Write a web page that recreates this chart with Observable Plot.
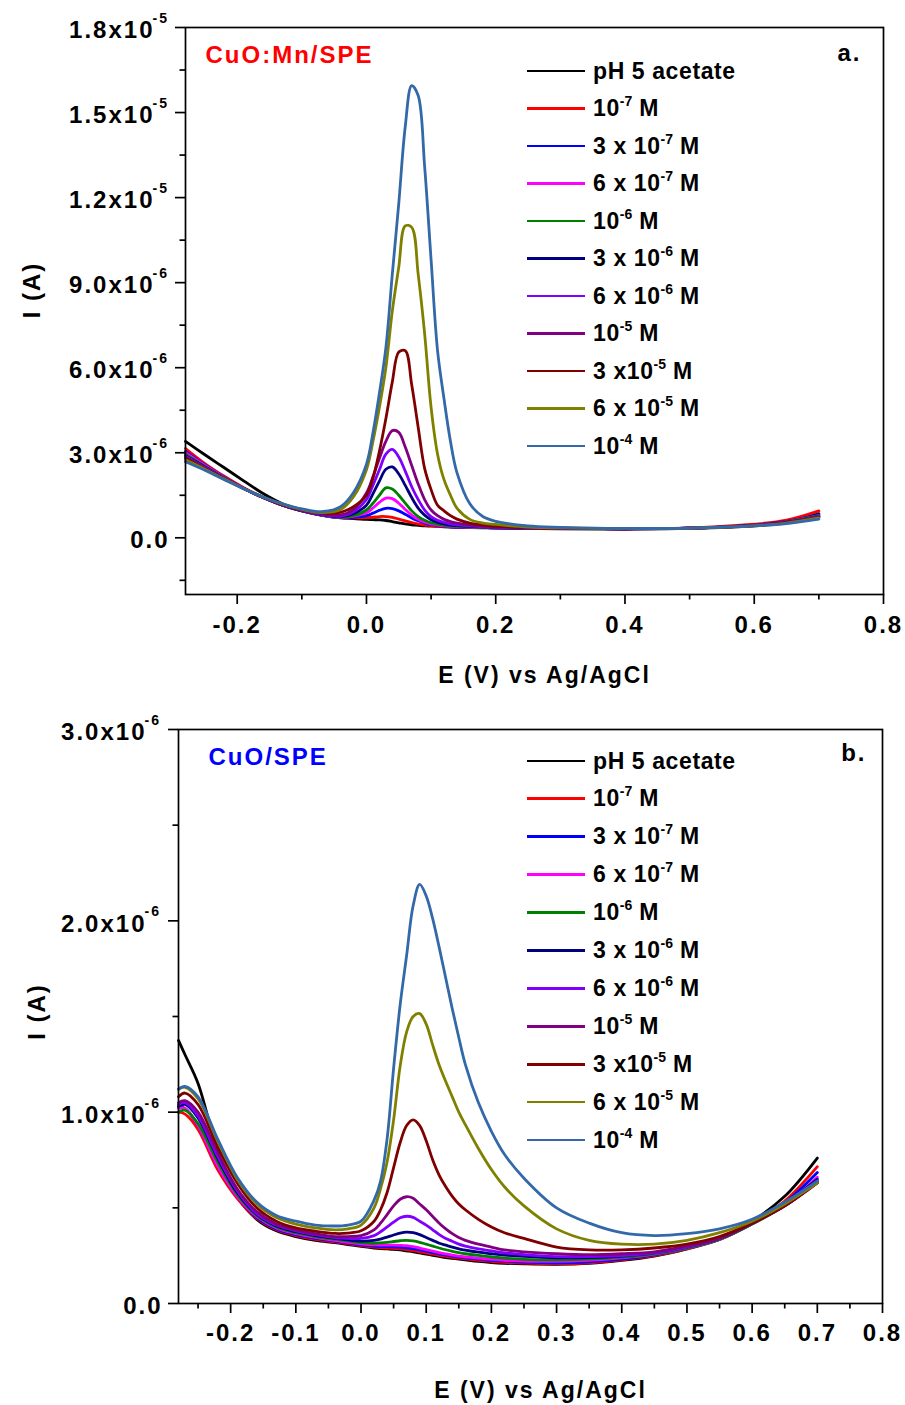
<!DOCTYPE html>
<html><head><meta charset="utf-8">
<script src="https://cdn.jsdelivr.net/npm/d3@7"></script>
<script src="https://cdn.jsdelivr.net/npm/@observablehq/plot@0.6"></script>
<style>
body{margin:0;background:#fff;}
#wrap{position:relative;width:905px;height:1405px;font-family:"Liberation Sans",Arial,sans-serif;font-weight:bold;background:#fff;}
#wrap svg{display:block}
.legend{position:absolute;left:527px;top:0;}
.row{position:absolute;left:0;height:30px;display:flex;align-items:center;white-space:pre;}
.sw{width:58px;height:2.8px;margin-right:8px;}
.lab{font-size:23px;letter-spacing:0.6px;color:#000;line-height:1;white-space:pre;}
.sup{font-size:14px;position:relative;top:-10px;letter-spacing:0;}
</style>
</head><body>
<div id="wrap"></div>
<script>
// ---------- data (current in µA, i.e. ×10^-6 A) ----------
const seriesNames = ["pH 5 acetate","1e-7","3e-7","6e-7","1e-6","3e-6","6e-6","1e-5","3e-5","6e-5","1e-4"];
const seriesColors = ["#000000","#ff0000","#0000ff","#ff00ff","#008000","#000080","#8000ff","#800080","#800000","#808000","#3369a8"];
const legendMain = ["pH 5 acetate","10","3 x 10","6 x 10","10","3 x 10","6 x 10","10","3 x10","6 x 10","10"];
const legendExp  = ["","-7","-7","-7","-6","-6","-6","-5","-5","-5","-4"];
const legendTail = [""," M"," M"," M"," M"," M"," M"," M"," M"," M"," M"];

// panel a: CuO:Mn/SPE
const topE = [-0.28,-0.25,-0.22,-0.19,-0.16,-0.13,-0.10,-0.07,-0.04,-0.02,0.00,0.01,0.02,0.03,0.04,0.05,0.06,0.07,0.08,0.09,0.10,0.11,0.12,0.13,0.14,0.16,0.18,0.20,0.25,0.30,0.40,0.50,0.60,0.65,0.70];
const topBuffer = [3.40,2.93,2.47,2.01,1.56,1.20,0.97,0.80,0.70,0.68,0.65,0.64,0.63,0.61,0.57,0.53,0.49,0.46,0.44,0.42,0.41,0.40,0.39,0.38,0.37,0.36,0.35,0.34,0.33,0.32,0.31,0.33,0.42,0.55,0.85];
const top1e7 = [3.15,2.62,2.17,1.77,1.43,1.15,0.95,0.80,0.71,0.70,0.71,0.73,0.75,0.75,0.72,0.66,0.60,0.54,0.49,0.45,0.43,0.41,0.40,0.39,0.38,0.37,0.36,0.35,0.34,0.33,0.32,0.35,0.48,0.62,0.95];
const top3e7 = [3.05,2.57,2.14,1.75,1.42,1.15,0.95,0.80,0.71,0.72,0.78,0.87,0.97,1.04,1.03,0.95,0.83,0.70,0.60,0.52,0.47,0.44,0.41,0.39,0.38,0.37,0.36,0.35,0.34,0.33,0.32,0.34,0.45,0.58,0.82];
const top6e7 = [3.00,2.55,2.13,1.75,1.42,1.15,0.95,0.81,0.72,0.76,0.88,1.05,1.25,1.40,1.38,1.22,1.00,0.80,0.65,0.55,0.49,0.45,0.42,0.40,0.39,0.37,0.36,0.35,0.34,0.33,0.32,0.34,0.44,0.56,0.78];
const top1e6 = [2.95,2.52,2.12,1.74,1.42,1.15,0.95,0.81,0.72,0.78,0.98,1.22,1.50,1.76,1.72,1.50,1.22,0.95,0.75,0.62,0.53,0.48,0.44,0.42,0.40,0.38,0.37,0.35,0.34,0.33,0.32,0.34,0.44,0.56,0.78];
const top3e6 = [2.90,2.50,2.10,1.74,1.42,1.15,0.96,0.82,0.74,0.85,1.15,1.55,2.00,2.42,2.50,2.25,1.85,1.42,1.05,0.80,0.64,0.55,0.49,0.45,0.43,0.40,0.38,0.36,0.34,0.33,0.32,0.34,0.44,0.55,0.76];
const top6e6 = [2.88,2.48,2.10,1.74,1.42,1.16,0.97,0.83,0.76,0.92,1.35,1.85,2.40,2.95,3.12,2.85,2.35,1.80,1.35,0.98,0.75,0.62,0.54,0.49,0.46,0.42,0.39,0.37,0.34,0.33,0.32,0.34,0.43,0.55,0.75];
const top1e5 = [2.85,2.46,2.09,1.74,1.43,1.17,0.98,0.85,0.80,1.00,1.58,2.15,2.80,3.40,3.78,3.72,3.20,2.55,1.90,1.35,0.98,0.78,0.65,0.57,0.52,0.45,0.41,0.39,0.35,0.34,0.32,0.34,0.43,0.54,0.74];
const top3e5 = [2.80,2.44,2.08,1.74,1.43,1.18,0.99,0.87,0.90,1.10,1.50,2.10,3.05,4.20,5.50,6.55,6.60,5.40,3.90,2.45,1.70,1.15,0.95,0.78,0.66,0.52,0.45,0.41,0.36,0.34,0.32,0.34,0.43,0.54,0.72];
const top6e5 = [2.75,2.42,2.07,1.74,1.44,1.19,1.00,0.89,1.00,1.45,2.40,3.40,4.60,6.00,8.00,9.55,11.00,10.95,9.30,7.20,4.60,2.95,2.05,1.50,1.05,0.65,0.52,0.47,0.38,0.35,0.33,0.34,0.42,0.52,0.70];
const top1e4 = [2.68,2.38,2.05,1.73,1.44,1.20,1.02,0.92,1.10,1.60,2.60,3.70,5.10,6.70,9.30,11.80,14.50,15.95,15.60,13.10,9.80,6.60,4.90,3.40,2.30,1.20,0.75,0.58,0.42,0.37,0.33,0.34,0.42,0.50,0.66];

// panel b: CuO/SPE
const botE = [-0.28,-0.27,-0.25,-0.22,-0.19,-0.16,-0.13,-0.10,-0.07,-0.04,-0.02,0.00,0.02,0.03,0.04,0.05,0.06,0.07,0.08,0.09,0.10,0.11,0.12,0.13,0.14,0.15,0.16,0.18,0.20,0.22,0.25,0.30,0.35,0.40,0.45,0.50,0.55,0.60,0.65,0.70];
const botBuffer = [1.375,1.30,1.15,0.80,0.56,0.44,0.38,0.35,0.33,0.318,0.308,0.298,0.29,0.287,0.285,0.283,0.28,0.275,0.27,0.264,0.258,0.252,0.246,0.24,0.236,0.232,0.228,0.22,0.214,0.21,0.207,0.205,0.21,0.225,0.248,0.285,0.34,0.43,0.56,0.76];
const bot1e7 = [1.00,0.99,0.91,0.70,0.55,0.445,0.385,0.355,0.335,0.322,0.312,0.303,0.295,0.292,0.29,0.288,0.285,0.281,0.276,0.27,0.264,0.258,0.252,0.246,0.241,0.237,0.233,0.226,0.22,0.215,0.211,0.208,0.213,0.228,0.25,0.285,0.335,0.42,0.535,0.715];
const bot3e7 = [1.03,1.02,0.93,0.72,0.56,0.45,0.39,0.36,0.34,0.326,0.316,0.307,0.30,0.298,0.297,0.296,0.294,0.291,0.286,0.28,0.273,0.266,0.259,0.253,0.248,0.243,0.239,0.232,0.226,0.221,0.216,0.213,0.218,0.232,0.254,0.288,0.335,0.418,0.525,0.685];
const bot6e7 = [1.02,1.02,0.93,0.72,0.56,0.455,0.395,0.365,0.345,0.33,0.32,0.312,0.306,0.305,0.305,0.305,0.304,0.302,0.297,0.29,0.282,0.274,0.266,0.259,0.253,0.248,0.244,0.237,0.231,0.226,0.222,0.22,0.225,0.238,0.258,0.29,0.335,0.415,0.515,0.66];
const bot1e6 = [1.00,1.01,0.94,0.74,0.57,0.46,0.40,0.37,0.35,0.336,0.327,0.318,0.315,0.317,0.32,0.324,0.328,0.33,0.327,0.32,0.31,0.30,0.29,0.281,0.273,0.266,0.26,0.251,0.243,0.237,0.231,0.228,0.232,0.242,0.26,0.29,0.335,0.415,0.51,0.64];
const bot3e6 = [1.03,1.04,0.97,0.76,0.58,0.465,0.405,0.375,0.355,0.34,0.332,0.326,0.33,0.337,0.347,0.358,0.368,0.373,0.37,0.36,0.345,0.33,0.315,0.305,0.295,0.286,0.279,0.268,0.26,0.253,0.246,0.239,0.24,0.248,0.265,0.295,0.34,0.42,0.52,0.65];
const bot6e6 = [1.04,1.05,0.98,0.77,0.59,0.47,0.41,0.38,0.36,0.345,0.34,0.34,0.355,0.375,0.40,0.425,0.448,0.456,0.45,0.43,0.41,0.385,0.36,0.34,0.325,0.31,0.30,0.285,0.275,0.265,0.255,0.245,0.245,0.25,0.265,0.295,0.34,0.42,0.51,0.64];
const bot1e5 = [1.05,1.06,1.00,0.79,0.60,0.48,0.415,0.385,0.365,0.35,0.35,0.355,0.385,0.42,0.465,0.51,0.545,0.558,0.55,0.52,0.49,0.455,0.42,0.39,0.365,0.345,0.33,0.31,0.295,0.28,0.27,0.26,0.255,0.26,0.27,0.30,0.34,0.42,0.51,0.63];
const bot3e5 = [1.08,1.10,1.04,0.82,0.63,0.50,0.43,0.395,0.378,0.366,0.368,0.38,0.43,0.49,0.58,0.71,0.84,0.93,0.96,0.93,0.85,0.75,0.67,0.61,0.56,0.52,0.49,0.44,0.40,0.37,0.34,0.295,0.28,0.28,0.29,0.31,0.35,0.42,0.51,0.63];
const bot6e5 = [1.12,1.13,1.07,0.85,0.65,0.52,0.45,0.415,0.395,0.385,0.39,0.41,0.50,0.60,0.74,0.96,1.24,1.42,1.50,1.515,1.46,1.35,1.245,1.16,1.08,1.00,0.935,0.81,0.70,0.61,0.51,0.39,0.33,0.31,0.31,0.33,0.37,0.43,0.52,0.63];
const bot1e4 = [1.12,1.135,1.08,0.86,0.66,0.53,0.46,0.43,0.41,0.405,0.41,0.43,0.54,0.64,0.86,1.23,1.56,1.82,2.08,2.19,2.13,2.01,1.86,1.70,1.54,1.39,1.25,1.05,0.90,0.78,0.655,0.50,0.42,0.37,0.355,0.365,0.39,0.44,0.53,0.64];

// ticks
const topXMajor = [-0.2,0,0.2,0.4,0.6,0.8];
const topXLabels = ["-0.2","0.0","0.2","0.4","0.6","0.8"];
const topXMinor = [-0.1,0.1,0.3,0.5,0.7];
const topYMajor = [0,3,6,9,12,15,18];
const topYMant = ["0.0","3.0x10","6.0x10","9.0x10","1.2x10","1.5x10","1.8x10"];
const topYExp = ["","-6","-6","-6","-5","-5","-5"];
const topYMinor = [-1.5,1.5,4.5,7.5,10.5,13.5,16.5];

const botXMajor = [-0.2,-0.1,0,0.1,0.2,0.3,0.4,0.5,0.6,0.7,0.8];
const botXLabels = ["-0.2","-0.1","0.0","0.1","0.2","0.3","0.4","0.5","0.6","0.7","0.8"];
const botXMinor = [-0.25,-0.15,-0.05,0.05,0.15,0.25,0.35,0.45,0.55,0.65,0.75];
const botYMajor = [0,1,2,3];
const botYMant = ["0.0","1.0x10","2.0x10","3.0x10"];
const botYExp = ["","-6","-6","-6"];
const botYMinor = [0.5,1.5,2.5];

const topSeries = [topBuffer,top1e7,top3e7,top6e7,top1e6,top3e6,top6e6,top1e5,top3e5,top6e5,top1e4];
const botSeries = [botBuffer,bot1e7,bot3e7,bot6e7,bot1e6,bot3e6,bot6e6,bot1e5,bot3e5,bot6e5,bot1e4];

const FONT = '"Liberation Sans", Arial, sans-serif';

function makePanel(cfg){
  const lines = cfg.series.map((vals, k) =>
    Plot.line(cfg.E.map((e, i) => ({E: e, I: vals[i]})), {
      x: "E", y: "I", stroke: seriesColors[k], strokeWidth: 2.8, curve: "catmull-rom"
    }));
  const svg = Plot.plot({
    width: 905, height: cfg.height,
    marginLeft: cfg.ml, marginRight: cfg.mr, marginTop: cfg.mt, marginBottom: cfg.mb,
    x: {domain: [-0.28, 0.8]},
    y: {domain: cfg.yDomain},
    style: {fontFamily: FONT, fontWeight: "bold", fontSize: "24px", letterSpacing: "2px", color: "#000", background: "#fff", overflow: "visible"},
    marks: [
      ...lines,
      Plot.frame({stroke: "#000", strokeWidth: 1.7}),
      Plot.axisX({ticks: cfg.xMajor, tickSize: 10, tickPadding: cfg.xPad, strokeWidth: 1.7, label: null,
        tickFormat: d => cfg.xLabels[cfg.xMajor.indexOf(d)]}),
      Plot.axisX({ticks: cfg.xMinor, tickSize: 5.5, strokeWidth: 1.7, label: null, tickFormat: () => ""}),
      Plot.axisY({ticks: cfg.yMajor, tickSize: 10, strokeWidth: 1.7, label: null, tickFormat: () => ""}),
      Plot.axisY({ticks: cfg.yMinor, tickSize: 5.5, strokeWidth: 1.7, label: null, tickFormat: () => ""}),
      Plot.text(cfg.yMajor.filter((d, i) => cfg.yExp[i] !== ""), {
        y: d => d, frameAnchor: "left", dx: cfg.mantDx, dy: 3, textAnchor: "end", lineAnchor: "middle",
        text: d => cfg.yMant[cfg.yMajor.indexOf(d)]}),
      Plot.text(cfg.yMajor.filter((d, i) => cfg.yExp[i] === ""), {
        y: d => d, frameAnchor: "left", dx: cfg.zeroDx, dy: 3, textAnchor: "end", lineAnchor: "middle",
        text: d => cfg.yMant[cfg.yMajor.indexOf(d)]}),
      Plot.text(cfg.yMajor.filter((d, i) => cfg.yExp[i] !== ""), {
        y: d => d, frameAnchor: "left", dx: cfg.mantDx - 2, dy: -9, textAnchor: "start", lineAnchor: "middle", fontSize: 14,
        ariaLabel: "exponent",
        text: d => cfg.yExp[cfg.yMajor.indexOf(d)]}),
      Plot.text(["E (V) vs Ag/AgCl"], {frameAnchor: "bottom", dy: cfg.xTitleDy, dx: 10, fontSize: 23,
        textAnchor: "middle", lineAnchor: "middle"}),
      Plot.text(["I (A)"], {frameAnchor: "left", dx: cfg.yTitleDx, dy: cfg.yTitleDy, rotate: -90, fontSize: 24,
        textAnchor: "middle", lineAnchor: "middle"}),
      Plot.text([cfg.title], {frameAnchor: "top-left", dx: cfg.titleDx, dy: cfg.titleDy, textAnchor: "start",
        lineAnchor: "middle", fill: cfg.titleColor, fontSize: 24}),
      Plot.text([cfg.letter], {frameAnchor: "top-right", dx: cfg.letterDx, dy: cfg.letterDy, textAnchor: "end",
        lineAnchor: "middle", fontSize: 24})
    ]
  });
  d3.select(svg).selectAll('g[aria-label="exponent"] text').style("letter-spacing", "0px");
  return svg;
}

const wrap = document.getElementById("wrap");

wrap.appendChild(makePanel({
  E: topE, series: topSeries, height: 700, ml: 185, mr: 22, mt: 27, mb: 106,
  yDomain: [-2, 18], xMajor: topXMajor, xLabels: topXLabels, xMinor: topXMinor, xPad: 11,
  yMajor: topYMajor, yMant: topYMant, yExp: topYExp, yMinor: topYMinor,
  mantDx: -31, zeroDx: -16, xTitleDy: 81, yTitleDx: -153, yTitleDy: -21,
  title: "CuO:Mn/SPE", titleColor: "#ff0000", titleDx: 20, titleDy: 28,
  letter: "a.", letterDx: -22, letterDy: 26
}));

wrap.appendChild(makePanel({
  E: botE, series: botSeries, height: 705, ml: 178, mr: 23, mt: 29, mb: 102,
  yDomain: [0, 3], xMajor: botXMajor, xLabels: botXLabels, xMinor: botXMinor, xPad: 10,
  yMajor: botYMajor, yMant: botYMant, yExp: botYExp, yMinor: botYMinor,
  mantDx: -32, zeroDx: -16, xTitleDy: 87, yTitleDx: -141, yTitleDy: -5,
  title: "CuO/SPE", titleColor: "#0000ff", titleDx: 30, titleDy: 28,
  letter: "b.", letterDx: -16, letterDy: 24
}));

// legends (HTML overlay inside the plot frames)
function addLegend(firstCenter, step){
  const lg = document.createElement("div");
  lg.className = "legend";
  seriesNames.forEach((name, i) => {
    const row = document.createElement("div");
    row.className = "row";
    row.style.top = (firstCenter + i * step - 15) + "px";
    const sw = document.createElement("div");
    sw.className = "sw";
    sw.style.background = seriesColors[i];
    const lab = document.createElement("span");
    lab.className = "lab";
    lab.append(legendMain[i]);
    if (legendExp[i]) {
      const s = document.createElement("span");
      s.className = "sup";
      s.textContent = legendExp[i];
      lab.append(s);
    }
    lab.append(legendTail[i]);
    row.append(sw, lab);
    lg.append(row);
  });
  wrap.append(lg);
}
addLegend(71, 37.5);
addLegend(761, 37.9);
</script>
</body></html>
